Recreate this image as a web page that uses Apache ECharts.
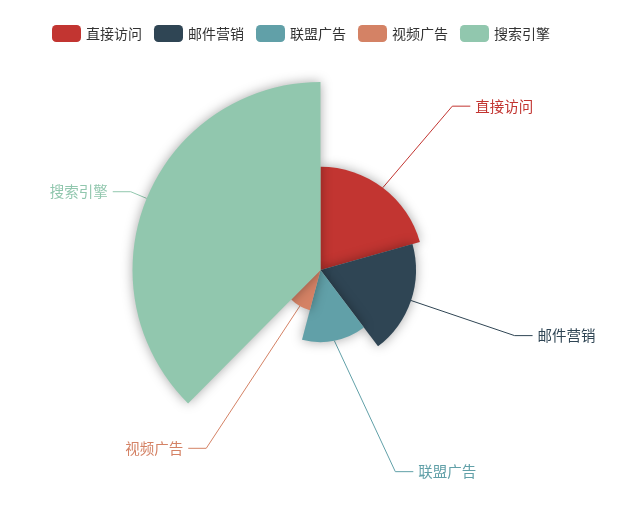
<!DOCTYPE html>
<html>
<head>
<meta charset="utf-8">
<style>
html,body{margin:0;padding:0;background:#fff;}
#container{width:631px;height:528px;}
</style>
<script src="https://cdn.jsdelivr.net/npm/echarts@6/dist/echarts.min.js"></script>
</head>
<body>
<div id="container"></div>
<script type="text/javascript">
	var names = ['直接访问', '邮件营销', '联盟广告', '视频广告', '搜索引擎'];
	var values = [335, 310, 234, 135, 610];
	var colors = ['#c23531', '#2f4554', '#61a0a8', '#d48265', '#91c7ae'];

	var cx = 320.5, cy = 270, R = 188;
	var lineLen = 17.5, lineLen2 = 18;

	var pieData = names.map(function (n, i) {
		return {
			name: n,
			value: values[i],
			label: { color: colors[i] }
		};
	});

	// old-style label placement: text x follows a ring around the pie
	function placeLabel(params) {
		var pts = params.labelLinePoints;
		if (!pts) return {};
		var dir = pts[1][0] >= cx ? 1 : -1;
		var y = pts[1][1];
		var ring = R + 34;
		var dy = Math.abs(y - cy);
		var dX = dy < ring ? Math.sqrt(ring * ring - dy * dy) : Math.abs(pts[2][0] - cx);
		var endX = cx + dir * dX;
		return {
			x: endX + dir * 5,
			y: y,
			align: dir > 0 ? 'left' : 'right',
			verticalAlign: 'middle',
			labelLinePoints: [pts[0], [endX - dir * lineLen2, y], [endX, y]]
		};
	}

	var myChart = echarts.init(document.getElementById('container'));
	var option = {
		color: colors,
		animation: false,
		legend: {
			top: 20,
			left: 47,
			itemWidth: 29,
			itemHeight: 17,
			itemGap: 12,
			icon: 'roundRect',
			textStyle: {
				fontSize: 14,
				color: '#333',
				fontFamily: 'Noto Sans CJK SC'
			},
			data: names
		},
		series: [
			{
				type: 'pie',
				roseType: 'radius',
				center: [cx, cy],
				radius: [0, R],
				avoidLabelOverlap: false,
				itemStyle: {
					shadowBlur: 12,
					shadowColor: 'rgba(0,0,0,0.35)'
				},
				label: {
					fontSize: 14.5,
					fontFamily: 'Noto Sans CJK SC',
					distanceToLabelLine: 5
				},
				labelLine: {
					length: lineLen,
					length2: lineLen2,
					smooth: false,
					lineStyle: { width: 1 }
				},
				labelLayout: placeLabel,
				data: pieData
			}
		]
	};
	myChart.setOption(option);
</script>
</body>
</html>
